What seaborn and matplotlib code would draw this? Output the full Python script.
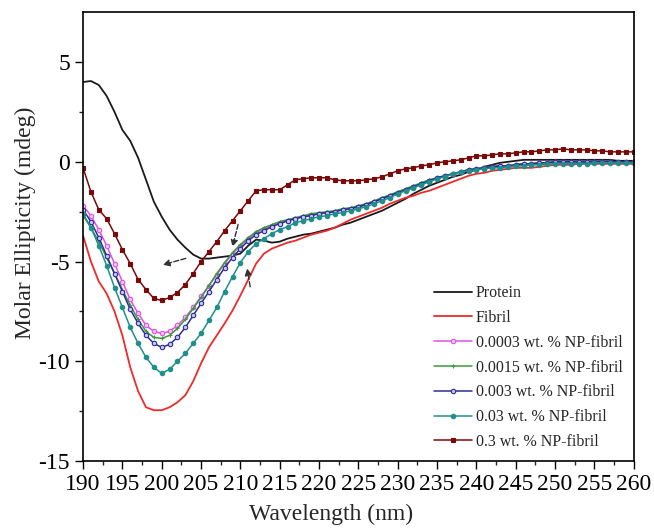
import numpy as np
import pandas as pd
import matplotlib
matplotlib.use('Agg')
import matplotlib.pyplot as plt
import seaborn as sns

# wavelength grid (nm), one reading per nm
wavelength = list(range(190, 261))

protein = [4.0, 4.05, 3.85, 3.3, 2.5, 1.6, 1.05, 0.2, -0.9, -2.0,
           -2.75, -3.4, -3.9, -4.3, -4.65, -4.85, -4.85, -4.8, -4.75, -4.7,
           -4.6, -4.2, -3.9, -3.95, -4.05, -4.0, -3.85, -3.75, -3.65, -3.6,
           -3.5, -3.4, -3.3, -3.15, -3.05, -2.9, -2.75, -2.6, -2.45, -2.25,
           -2.05, -1.85, -1.6, -1.4, -1.2, -1.05, -0.9, -0.75, -0.65, -0.5,
           -0.4, -0.25, -0.15, -0.05, 0.0, 0.05, 0.1, 0.1, 0.1, 0.1,
           0.1, 0.1, 0.1, 0.1, 0.1, 0.1, 0.1, 0.1, 0.05, 0.05, 0.05]

fibril = [-3.7, -5.0, -6.0, -6.6, -7.5, -8.7, -10.3, -11.5, -12.3, -12.45,
          -12.45, -12.3, -12.05, -11.7, -11.0, -10.1, -9.3, -8.7, -8.1, -7.45,
          -6.7, -5.9, -5.1, -4.6, -4.35, -4.2, -4.05, -3.95, -3.8, -3.65,
          -3.55, -3.45, -3.3, -3.1, -2.9, -2.75, -2.6, -2.45, -2.3, -2.1,
          -1.95, -1.8, -1.7, -1.55, -1.45, -1.3, -1.15, -1.0, -0.85, -0.7,
          -0.6, -0.55, -0.45, -0.4, -0.35, -0.3, -0.3, -0.3, -0.25, -0.2,
          -0.15, -0.15, -0.15, -0.1, -0.1, -0.1, -0.1, -0.1, -0.1, -0.1, -0.1]

np_0003 = [-2.2, -2.7, -3.4, -4.2, -5.1, -6.0, -6.9, -7.6, -8.2, -8.5,
           -8.6, -8.5, -8.2, -7.8, -7.3, -6.75, -6.2, -5.65, -5.1, -4.6,
           -4.2, -3.85, -3.55, -3.35, -3.2, -3.05, -2.95, -2.85, -2.75, -2.65,
           -2.6, -2.55, -2.5, -2.4, -2.35, -2.25, -2.15, -2.0, -1.85, -1.7,
           -1.55, -1.4, -1.25, -1.1, -0.95, -0.8, -0.7, -0.6, -0.5, -0.4,
           -0.35, -0.3, -0.25, -0.2, -0.2, -0.15, -0.1, -0.1, -0.05, -0.05,
           0.0, 0.0, 0.0, 0.0, 0.0, 0.0, 0.0, 0.0, 0.0, 0.0, 0.0]

np_0015 = [-2.7, -3.3, -4.0, -4.8, -5.6, -6.4, -7.2, -7.9, -8.5, -8.8,
           -8.85, -8.7, -8.35, -7.9, -7.35, -6.8, -6.2, -5.6, -5.05, -4.55,
           -4.15, -3.8, -3.5, -3.3, -3.15, -3.0, -2.9, -2.8, -2.7, -2.6,
           -2.55, -2.5, -2.45, -2.35, -2.3, -2.2, -2.1, -1.95, -1.8, -1.65,
           -1.5, -1.35, -1.2, -1.05, -0.9, -0.8, -0.7, -0.6, -0.5, -0.4,
           -0.35, -0.3, -0.25, -0.2, -0.2, -0.15, -0.1, -0.1, -0.05, -0.05,
           0.0, 0.0, 0.0, 0.0, 0.0, 0.0, 0.0, 0.0, 0.0, 0.0, 0.0]

np_003 = [-2.4, -3.0, -3.8, -4.7, -5.6, -6.5, -7.4, -8.1, -8.7, -9.1,
          -9.3, -9.15, -8.8, -8.3, -7.7, -7.1, -6.5, -5.9, -5.3, -4.8,
          -4.35, -3.95, -3.65, -3.45, -3.25, -3.1, -2.95, -2.85, -2.75, -2.7,
          -2.6, -2.55, -2.5, -2.4, -2.35, -2.25, -2.15, -2.0, -1.85, -1.7,
          -1.55, -1.4, -1.25, -1.1, -0.95, -0.8, -0.7, -0.6, -0.5, -0.4,
          -0.35, -0.3, -0.25, -0.2, -0.2, -0.15, -0.1, -0.1, -0.05, -0.05,
          0.0, 0.0, 0.0, 0.0, 0.0, 0.0, 0.0, 0.0, 0.0, 0.0, 0.0]

np_03 = [-2.6, -3.3, -4.2, -5.2, -6.3, -7.3, -8.3, -9.1, -9.8, -10.3,
         -10.6, -10.4, -10.0, -9.6, -9.1, -8.6, -7.95, -7.3, -6.5, -5.75,
         -5.05, -4.5, -4.1, -3.85, -3.6, -3.4, -3.25, -3.05, -2.95, -2.85,
         -2.75, -2.7, -2.6, -2.55, -2.45, -2.35, -2.25, -2.1, -1.95, -1.8,
         -1.6, -1.45, -1.3, -1.15, -1.0, -0.85, -0.75, -0.6, -0.5, -0.45,
         -0.4, -0.35, -0.3, -0.3, -0.25, -0.2, -0.2, -0.15, -0.15, -0.1,
         -0.1, -0.1, -0.1, -0.1, -0.1, -0.05, -0.05, -0.05, -0.05, -0.05, -0.05]

np_3 = [-0.3, -1.5, -2.4, -2.85, -3.6, -4.4, -5.1, -5.9, -6.4, -6.85,
        -6.95, -6.8, -6.55, -6.15, -5.6, -5.0, -4.5, -4.0, -3.45, -2.95,
        -2.45, -1.95, -1.45, -1.4, -1.4, -1.4, -1.15, -0.9, -0.85, -0.8,
        -0.8, -0.8, -0.9, -0.95, -0.95, -0.95, -0.9, -0.85, -0.75, -0.6,
        -0.45, -0.35, -0.3, -0.2, -0.15, -0.05, 0.0, 0.05, 0.1, 0.2,
        0.3, 0.3, 0.35, 0.4, 0.4, 0.45, 0.5, 0.5, 0.55, 0.6,
        0.6, 0.65, 0.6, 0.6, 0.6, 0.55, 0.55, 0.5, 0.5, 0.5, 0.5]

labels = ['Protein', 'Fibril', '0.0003 wt. % NP-fibril', '0.0015 wt. % NP-fibril',
          '0.003 wt. % NP-fibril', '0.03 wt. % NP-fibril', '0.3 wt. % NP-fibril']
series = [protein, fibril, np_0003, np_0015, np_003, np_03, np_3]
colors = ['#1a1a1a', '#ee2a2a', '#e050e8', '#3c9a3c', '#2c2c9c', '#1f8f8a', '#7a0a0a']
markers = [None, None, 'o', '+', 'o', 'o', 's']
facecolors = [None, None, '#f0c8f0', '#3c9a3c', '#c8c8f0', '#1f8f8a', '#7a0a0a']

sns.set_style('ticks')
plt.rcParams['font.family'] = ['Liberation Serif', 'DejaVu Serif']
plt.rcParams['axes.unicode_minus'] = False

fig = plt.figure(figsize=(6.54, 5.3), dpi=100)
ax = fig.add_axes([0.127, 0.130, 0.842, 0.847])

for lab, vals, col, mk, fc in zip(labels, series, colors, markers, facecolors):
    kw = dict(x=wavelength, y=vals, color=col, label=lab, ax=ax, linewidth=1.3)
    if mk is not None:
        kw.update(marker=mk, markersize=3.2, markerfacecolor=fc, linewidth=1.1,
                  markeredgecolor=col, markeredgewidth=0.8)
    sns.lineplot(**kw)

# dashed arrows marking the spectral shifts
arrow_kw = dict(arrowstyle='-|>', linestyle='--', color='#333333', lw=1.0,
                mutation_scale=10)
ax.annotate('', xy=(199.8, -5.2), xytext=(203.4, -4.8), arrowprops=arrow_kw)
ax.annotate('', xy=(208.9, -4.4), xytext=(209.8, -3.0), arrowprops=arrow_kw)
ax.annotate('', xy=(210.8, -5.2), xytext=(211.3, -6.4), arrowprops=arrow_kw)

ax.set_xlim(190, 260)
ax.set_ylim(-15, 7.5)
ax.set_xticks(range(190, 261, 5))
ax.set_yticks([-15, -10, -5, 0, 5])
ax.set_xticks(np.arange(192.5, 260, 5), minor=True)
ax.set_yticks(np.arange(-12.5, 7.5, 5), minor=True)
ax.tick_params(axis='both', which='major', direction='out', length=6, width=1,
               labelsize=17, colors='black')
ax.tick_params(axis='both', which='minor', direction='out', length=3, width=1)
for s in ax.spines.values():
    s.set_visible(True)
    s.set_linewidth(1.2)
    s.set_color('black')

ax.set_xlabel('Wavelength (nm)', fontsize=17, labelpad=6)
ax.set_ylabel('Molar Ellipticity (mdeg)', fontsize=17, labelpad=2)
ax.xaxis.set_label_coords(0.45, -0.095)
ax.yaxis.set_label_coords(-0.085, 0.53)

ax.legend(loc='lower right', bbox_to_anchor=(1.0, 0.0), frameon=False,
          fontsize=11.5, handlelength=2.4, handletextpad=0.2,
          labelspacing=0.55, borderaxespad=0.3)

fig.savefig('out.png', dpi=100)
